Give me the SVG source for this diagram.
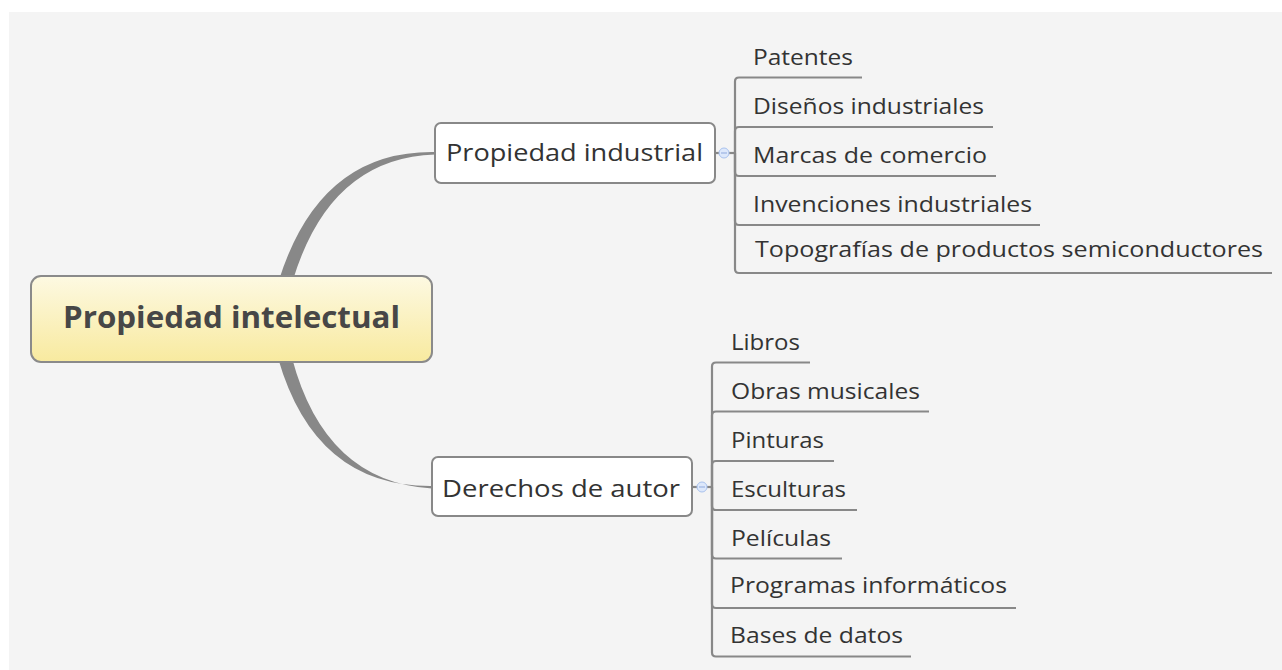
<svg xmlns="http://www.w3.org/2000/svg" width="1282" height="670" viewBox="0 0 1282 670">
<defs>
<linearGradient id="cg" x1="0" y1="0" x2="0" y2="1">
<stop offset="0" stop-color="#fdf9e2"/>
<stop offset="1" stop-color="#f8ea9f"/>
</linearGradient>
<style>
.lbl{font-family:"Open Sans","Noto Sans","DejaVu Sans",sans-serif;font-size:22px;fill:#333}
.mid{font-family:"Open Sans","Noto Sans","DejaVu Sans",sans-serif;font-size:24px;fill:#333}
.ctr{font-family:"Open Sans","Noto Sans","DejaVu Sans",sans-serif;font-size:30px;font-weight:bold;fill:#474747}
.br{fill:none;stroke:#888;stroke-width:2.2}
.box{fill:#fff;stroke:#888;stroke-width:2}
.tap{fill:#888}
.tog{fill:#dde8fb;stroke:#a9c2ee;stroke-width:1}
.togm{stroke:#8fa9dd;stroke-width:1}
</style>
</defs>
<rect x="0" y="0" width="1282" height="670" fill="#fff"/>
<rect x="9" y="12" width="1273" height="658" fill="#f4f4f4"/>
<g id="connectors">
<path class="tap" d="M279,280 Q320,150 435,152 L435,154.5 Q330,158 293,280 Z"/>
<path class="tap" d="M278,358 Q315,487 432,486 L432,488.5 Q325,482 292,358 Z"/>
<path class="br" d="M715,153 H735"/>
<path class="br" d="M735,153 V81.5 Q735,77.5 739,77.5 H862"/>
<path class="br" d="M735,153 V131 Q735,127 739,127 H993"/>
<path class="br" d="M735,153 V172 Q735,176 739,176 H996"/>
<path class="br" d="M735,153 V221 Q735,225 739,225 H1040"/>
<path class="br" d="M735,153 V269 Q735,273 739,273 H1272"/>
<path class="br" d="M692,487 H712"/>
<path class="br" d="M712,487 V366.5 Q712,362.5 716,362.5 H810"/>
<path class="br" d="M712,487 V415.5 Q712,411.5 716,411.5 H929"/>
<path class="br" d="M712,487 V465 Q712,461 716,461 H834"/>
<path class="br" d="M712,487 V506 Q712,510 716,510 H857"/>
<path class="br" d="M712,487 V554.5 Q712,558.5 716,558.5 H842"/>
<path class="br" d="M712,487 V604 Q712,608 716,608 H1016"/>
<path class="br" d="M712,487 V652.5 Q712,656.5 716,656.5 H911"/>
</g>
<g id="central">
<rect x="31" y="276" width="401" height="86" rx="10" fill="url(#cg)" stroke="#8a8a8a" stroke-width="2"/>
<text class="ctr" x="63" y="328" textLength="337" lengthAdjust="spacingAndGlyphs">Propiedad intelectual</text>
</g>
<g id="industrial">
<rect class="box" x="435" y="123" width="280" height="60" rx="6"/>
<text class="mid" x="446" y="161" textLength="257" lengthAdjust="spacingAndGlyphs">Propiedad industrial</text>
<circle class="tog" cx="724" cy="153" r="5"/>
<line class="togm" x1="721" y1="153" x2="727" y2="153"/>
</g>
<g id="autor">
<rect class="box" x="432" y="457" width="260" height="59" rx="6"/>
<text class="mid" x="442" y="497" textLength="238" lengthAdjust="spacingAndGlyphs">Derechos de autor</text>
<circle class="tog" cx="702" cy="487" r="5"/>
<line class="togm" x1="699" y1="487" x2="705" y2="487"/>
</g>
<g id="patentes"><text class="lbl" x="753" y="65" textLength="100" lengthAdjust="spacingAndGlyphs">Patentes</text></g>
<g id="disenos"><text class="lbl" x="753" y="114" textLength="231" lengthAdjust="spacingAndGlyphs">Diseños industriales</text></g>
<g id="marcas"><text class="lbl" x="753" y="163" textLength="234" lengthAdjust="spacingAndGlyphs">Marcas de comercio</text></g>
<g id="invenciones"><text class="lbl" x="753" y="212" textLength="279" lengthAdjust="spacingAndGlyphs">Invenciones industriales</text></g>
<g id="topografias"><text class="lbl" x="755" y="257" textLength="508" lengthAdjust="spacingAndGlyphs">Topografías de productos semiconductores</text></g>
<g id="libros"><text class="lbl" x="731" y="350" textLength="69" lengthAdjust="spacingAndGlyphs">Libros</text></g>
<g id="obras"><text class="lbl" x="731" y="399" textLength="189" lengthAdjust="spacingAndGlyphs">Obras musicales</text></g>
<g id="pinturas"><text class="lbl" x="731" y="448" textLength="93" lengthAdjust="spacingAndGlyphs">Pinturas</text></g>
<g id="esculturas"><text class="lbl" x="731" y="497" textLength="115" lengthAdjust="spacingAndGlyphs">Esculturas</text></g>
<g id="peliculas"><text class="lbl" x="731" y="546" textLength="100" lengthAdjust="spacingAndGlyphs">Películas</text></g>
<g id="programas"><text class="lbl" x="730" y="593" textLength="277" lengthAdjust="spacingAndGlyphs">Programas informáticos</text></g>
<g id="bases"><text class="lbl" x="730" y="643" textLength="173" lengthAdjust="spacingAndGlyphs">Bases de datos</text></g>
</svg>
